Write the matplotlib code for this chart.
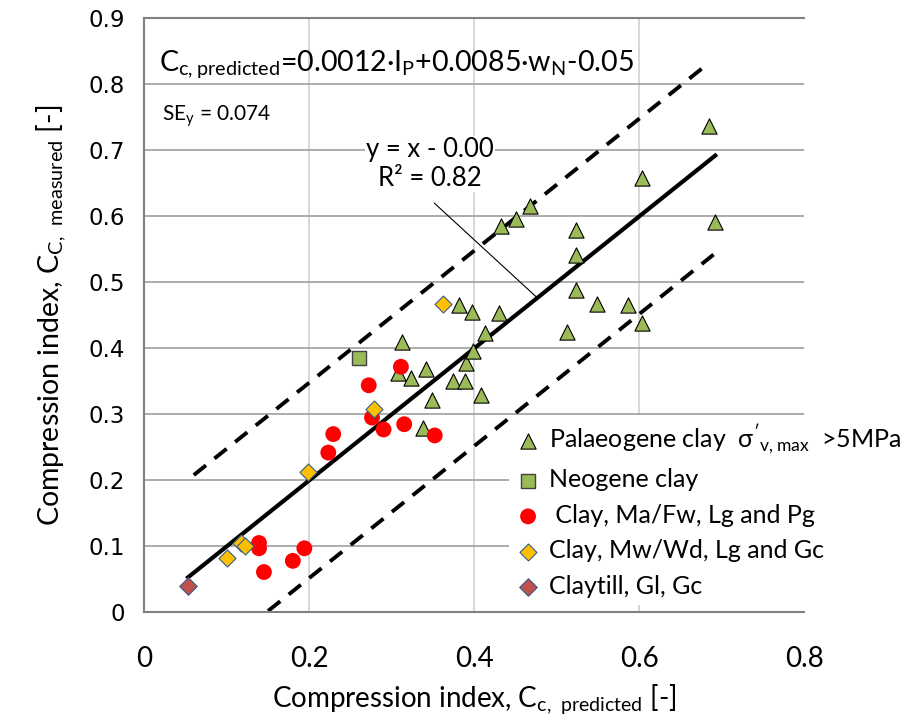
import matplotlib

matplotlib.use("Agg")
import matplotlib.pyplot as plt
import numpy as np

plt.rcParams["font.family"] = ["Lato", "DejaVu Sans"]

# Palaeogene clay (sigma'v,max > 5 MPa)
palaeo_x = [0.312, 0.307, 0.342, 0.323, 0.349, 0.338, 0.374, 0.389, 0.390, 0.399,
            0.413, 0.408, 0.382, 0.397, 0.430, 0.432, 0.450, 0.468, 0.523, 0.523,
            0.523, 0.512, 0.549, 0.586, 0.603, 0.603, 0.692, 0.684]
palaeo_y = [0.409, 0.363, 0.369, 0.355, 0.322, 0.279, 0.350, 0.350, 0.378, 0.396,
            0.423, 0.330, 0.465, 0.455, 0.453, 0.586, 0.596, 0.616, 0.579, 0.542,
            0.489, 0.424, 0.467, 0.466, 0.439, 0.658, 0.591, 0.737]

neogene_x = [0.260]
neogene_y = [0.386]

ma_x = [0.139, 0.139, 0.145, 0.180, 0.194, 0.223, 0.229, 0.272, 0.276, 0.290,
        0.315, 0.311, 0.352]
ma_y = [0.105, 0.097, 0.061, 0.078, 0.097, 0.242, 0.270, 0.344, 0.295, 0.277,
        0.285, 0.372, 0.268]

mw_x = [0.100, 0.117, 0.122, 0.198, 0.278, 0.362]
mw_y = [0.083, 0.105, 0.101, 0.212, 0.308, 0.467]

till_x = [0.053]
till_y = [0.040]

# fit y = a*x + b, standard error, band = +-2*SE
fit_a = 1.0
fit_b = 0.0
r2 = 0.82
se_y = 0.074
upper_x = [0.06, 0.68]
lower_x = [0.15, 0.69]

xticks = [0, 0.2, 0.4, 0.6, 0.8]
yticks = [0, 0.1, 0.2, 0.3, 0.4, 0.5, 0.6, 0.7, 0.8, 0.9]

fig = plt.figure(figsize=(9.02, 7.23), dpi=100)
ax = fig.add_axes([0.1600, 0.1531, 0.7317, 0.8216])

ax.set_xlim(0, 0.8)
ax.set_ylim(0, 0.9)
ax.set_xticks(xticks)
ax.set_xticklabels(["0", "0.2", "0.4", "0.6", "0.8"], fontsize=20)
ax.set_yticks(yticks)
ax.set_yticklabels(["0", "0.1", "0.2", "0.3", "0.4", "0.5", "0.6", "0.7", "0.8", "0.9"],
                   fontsize=16.5, family="DejaVu Sans")
ax.tick_params(axis="both", length=0)
ax.tick_params(axis="x", pad=24)
ax.tick_params(axis="y", pad=14)

ax.yaxis.grid(True, color="#a6a6a6", lw=1.3)
ax.xaxis.grid(True, color="#d0d0d0", lw=1.2)
ax.get_xgridlines()[-1].set_visible(False)
ax.set_axisbelow(True)
for s in ["left", "bottom", "top"]:
    ax.spines[s].set_color("#808080")
    ax.spines[s].set_linewidth(1.5)
    ax.spines[s].set_zorder(6)
ax.spines["right"].set_visible(False)

# trend line and +-2SE band
all_x = np.concatenate([palaeo_x, neogene_x, ma_x, mw_x, till_x])
fx = np.array([all_x.min(), all_x.max()])
ax.plot(fx, fit_a * fx + fit_b, color="black", lw=3, zorder=2)
ux = np.array(upper_x)
lx = np.array(lower_x)
ax.plot(ux, fit_a * ux + fit_b + 2 * se_y, color="black", lw=2.8,
        ls=(0, (4.0, 2.8)), zorder=2)
ax.plot(lx, fit_a * lx + fit_b - 2 * se_y, color="black", lw=2.8,
        ls=(0, (4.0, 2.8)), zorder=2)

ax.scatter(palaeo_x, palaeo_y, marker="^", s=120, color="#9bbb59",
           edgecolors="black", linewidths=0.8, zorder=3,
           label=r"Palaeogene clay  $\mathregular{\sigma'_{v,max}}$  >5MPa")
ax.scatter(neogene_x, neogene_y, marker="s", s=100, color="#9bbb59",
           edgecolors="#404040", linewidths=1.0, zorder=3, label="Neogene clay")
ax.scatter(ma_x, ma_y, marker="o", s=130, color="#ff0000", edgecolors="none",
           zorder=3, label=" Clay, Ma/Fw, Lg and Pg")
ax.scatter(mw_x, mw_y, marker="D", s=75, color="#ffc000", edgecolors="#385d8a",
           linewidths=0.8, zorder=3, label="Clay, Mw/Wd, Lg and Gc")
ax.scatter(till_x, till_y, marker="D", s=80, color="#c0504d", edgecolors="#385d8a",
           linewidths=0.8, zorder=3, label="Claytill, Gl, Gc")

# texts
ax.text(0.018, 0.821,
        r"$\mathregular{C_{c,predicted}}$=0.0012·I$_\mathregular{P}$+0.0085·w$_\mathregular{N}$-0.05",
        fontsize=20.5, ha="left", va="baseline")
ax.text(0.022, 0.746, r"SE$_\mathregular{y}$ = " + f"{se_y:.3f}", fontsize=15,
        ha="left", va="baseline")

eq = f"y = x - {abs(fit_b):.2f}\nR² = {r2:.2f}"
ax.text(0.346, 0.679, eq, fontsize=18.5, ha="center", va="center",
        linespacing=1.2, zorder=4,
        bbox=dict(facecolor="white", edgecolor="none", pad=1))
ax.annotate("", xy=(0.475, 0.478), xytext=(0.3515, 0.620),
            arrowprops=dict(arrowstyle="-", lw=0.8, color="black",
                            shrinkA=0, shrinkB=0), zorder=4)

ax.set_xlabel(r"Compression index, C$_\mathregular{c,\ predicted}$ [-]", fontsize=20,
              labelpad=8)
ax.set_ylabel(r"Compression index, C$_\mathregular{C,\ measured}$ [-]", fontsize=20.5,
              labelpad=14)

leg = ax.legend(loc="upper left", bbox_to_anchor=(0.553, 0.333), fontsize=18,
                frameon=True, facecolor="white", edgecolor="none", framealpha=1,
                fancybox=False, borderpad=0.3, borderaxespad=0,
                handlelength=0.9, handletextpad=0.4, labelspacing=0.5)
leg.set_zorder(5)

plt.savefig("out.png", dpi=100)
plt.close()
